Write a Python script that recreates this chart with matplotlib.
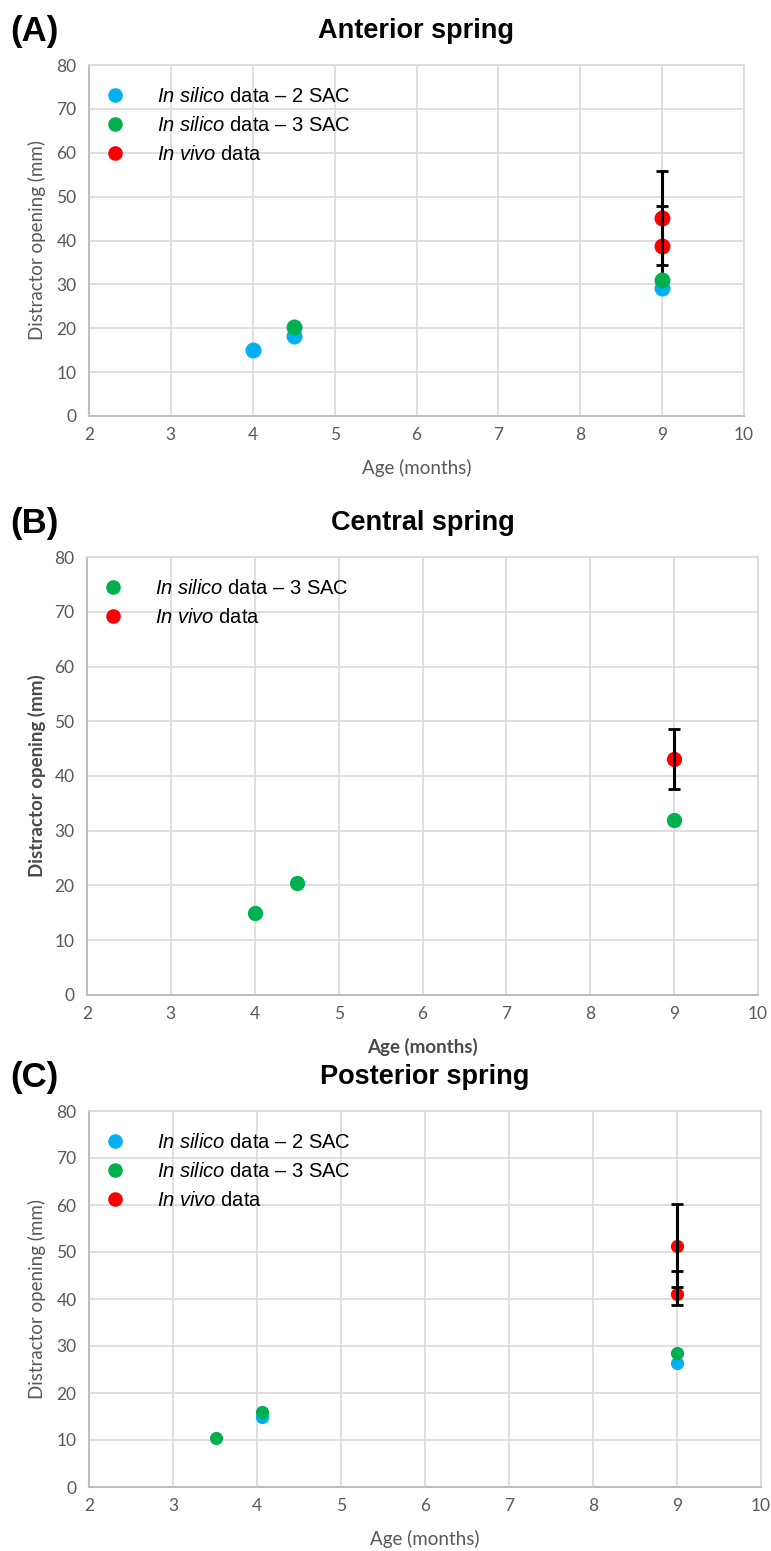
import matplotlib
matplotlib.use("Agg")
import matplotlib.pyplot as plt
from matplotlib import font_manager as fm
from matplotlib.lines import Line2D

# ---------------- data ----------------
# Panel A - Anterior spring
a_2sac_x = [4.0, 4.5, 9.0]
a_2sac_y = [15.0, 18.2, 29.1]
a_3sac_x = [4.5, 9.0]
a_3sac_y = [20.2, 31.1]
a_vivo_x = [9.0, 9.0]
a_vivo_y = [45.2, 38.7]
a_vivo_err = [10.7, 9.1]

# Panel B - Central spring
b_3sac_x = [4.0, 4.5, 9.0]
b_3sac_y = [15.0, 20.5, 32.0]
b_vivo_x = [9.0]
b_vivo_y = [43.1]
b_vivo_err = [5.4]

# Panel C - Posterior spring
c_2sac_x = [4.06, 9.0]
c_2sac_y = [15.0, 26.4]
c_3sac_x = [3.51, 4.06, 9.0]
c_3sac_y = [10.5, 16.0, 28.6]
c_vivo_x = [9.0, 9.0]
c_vivo_y = [51.3, 41.1]
c_vivo_err_lo = [8.8, 2.4]
c_vivo_err_hi = [8.9, 4.9]

titles = ["Anterior spring", "Central spring", "Posterior spring"]
panel_tags = ["(A)", "(B)", "(C)"]
xticks = [2, 3, 4, 5, 6, 7, 8, 9, 10]
yticks = [0, 10, 20, 30, 40, 50, 60, 70, 80]
xlabel = "Age (months)"
ylabel = "Distractor opening (mm)"
lab_2sac = r"$\mathit{In\ silico}$ data – 2 SAC"
lab_3sac = r"$\mathit{In\ silico}$ data – 3 SAC"
lab_vivo = r"$\mathit{In\ vivo}$ data"

BLUE = "#00b0f0"
GREEN = "#00b050"
RED = "#ff0000"
GRID = "#d9d9d9"
TICKC = "#595959"

names = {f.name for f in fm.fontManager.ttflist}
NARROW = "Liberation Sans Narrow" if "Liberation Sans Narrow" in names else "Liberation Sans"
BODY = "Lato" if "Lato" in names else "DejaVu Sans"

plt.rcParams["mathtext.fontset"] = "custom"
plt.rcParams["mathtext.it"] = NARROW + ":italic"
plt.rcParams["mathtext.rm"] = NARROW

W, H = 771, 1551
fig = plt.figure(figsize=(W / 100, H / 100), dpi=100)
fig.patch.set_facecolor("white")


def add_axes_px(x0, x1, y0, y1):
    return fig.add_axes([x0 / W, 1 - y1 / H, (x1 - x0) / W, (y1 - y0) / H])


# pixel boxes (left, right, top, bottom)
boxes = [(89, 744, 65, 416), (87, 758, 557, 995), (89, 761, 1111, 1487)]
msizes = [11.5, 11.0, 9.5]
label_weights = ["normal", "bold", "normal"]
label_colors = [TICKC, "#4a4a4a", TICKC]

axes = [add_axes_px(*b) for b in boxes]


def style(ax, box, title, tag, lw, lc):
    ax.set_xlim(2, 10)
    ax.set_ylim(0, 80)
    ax.set_xticks(xticks)
    ax.set_yticks(yticks)
    ax.grid(True, color=GRID, linewidth=1.2, zorder=0)
    ax.set_axisbelow(True)
    for s in ["top", "right"]:
        ax.spines[s].set_color(GRID)
        ax.spines[s].set_linewidth(1.2)
    for s in ["left", "bottom"]:
        ax.spines[s].set_color("#bfbfbf")
        ax.spines[s].set_linewidth(1.5)
    ax.tick_params(axis="y", length=0, labelsize=12.5, labelcolor=TICKC, pad=9)
    ax.tick_params(axis="x", length=0, labelsize=12.5, labelcolor=TICKC, pad=8)
    for lab in ax.get_xticklabels() + ax.get_yticklabels():
        lab.set_family(BODY)
    x0, x1, y0, y1 = box
    ax.set_xlabel(xlabel, family=BODY, fontsize=13.5, color=lc, va="center",
                  fontweight=lw)
    ax.set_ylabel(ylabel, family=BODY, fontsize=13.5, color=lc, va="center",
                  fontweight=lw)
    ax.xaxis.set_label_coords(0.5, -(52) / (y1 - y0))
    ax.yaxis.set_label_coords((37 - x0) / (x1 - x0), 0.5)
    fig.text((x0 + x1) / 2 / W, 1 - (y0 - 34) / H, title, family=NARROW,
             fontweight="bold", fontsize=19.5, ha="center", va="center")
    fig.text(10 / W, 1 - (y0 - 34) / H, tag, family=NARROW,
             fontweight="bold", fontsize=25, ha="left", va="center")


for ax, box, t, tag, lw, lc in zip(axes, boxes, titles, panel_tags,
                                   label_weights, label_colors):
    style(ax, box, t, tag, lw, lc)

# ---- panel A ----
ax = axes[0]
ms = msizes[0]
ax.plot(a_vivo_x, a_vivo_y, "o", color=RED, ms=ms, mew=0, zorder=3)
ax.errorbar(a_vivo_x, a_vivo_y, yerr=a_vivo_err, fmt="none", ecolor="black",
            elinewidth=2.2, capsize=4, capthick=2, zorder=4)
ax.plot(a_2sac_x, a_2sac_y, "o", color=BLUE, ms=ms, mew=0, zorder=5)
ax.plot(a_3sac_x, a_3sac_y, "o", color=GREEN, ms=ms, mew=0, zorder=6)

# ---- panel B ----
ax = axes[1]
ms = msizes[1]
ax.plot(b_vivo_x, b_vivo_y, "o", color=RED, ms=ms, mew=0, zorder=3)
ax.errorbar(b_vivo_x, b_vivo_y, yerr=b_vivo_err, fmt="none", ecolor="black",
            elinewidth=2.2, capsize=4, capthick=2, zorder=4)
ax.plot(b_3sac_x, b_3sac_y, "o", color=GREEN, ms=ms, mew=0, zorder=6)

# ---- panel C ----
ax = axes[2]
ms = msizes[2]
ax.plot(c_vivo_x, c_vivo_y, "o", color=RED, ms=ms, mew=0, zorder=3)
ax.errorbar(c_vivo_x, c_vivo_y, yerr=[c_vivo_err_lo, c_vivo_err_hi], fmt="none",
            ecolor="black", elinewidth=2.2, capsize=4, capthick=2, zorder=4)
ax.plot(c_2sac_x, c_2sac_y, "o", color=BLUE, ms=ms, mew=0, zorder=5)
ax.plot(c_3sac_x, c_3sac_y, "o", color=GREEN, ms=ms, mew=0, zorder=6)


# ---- legends ----
def mk(c, ms):
    return Line2D([], [], marker="o", linestyle="none", color=c, ms=ms, mew=0)


leg_specs = [
    ([mk(BLUE, 10.5), mk(GREEN, 10.5), mk(RED, 10.5)], [lab_2sac, lab_3sac, lab_vivo]),
    ([mk(GREEN, 10.5), mk(RED, 10.5)], [lab_3sac, lab_vivo]),
    ([mk(BLUE, 10.5), mk(GREEN, 10.5), mk(RED, 10.5)], [lab_2sac, lab_3sac, lab_vivo]),
]
fs_leg = 14.5
fs_px = fs_leg * 100 / 72
for ax, box, (h, l) in zip(axes, boxes, leg_specs):
    x0, x1, y0, y1 = box
    hl = 52 / fs_px
    ax.legend(h, l, loc="upper left",
              bbox_to_anchor=(0, 1 - 22 / (y1 - y0)),
              frameon=False, borderaxespad=0, borderpad=0,
              handlelength=hl, handletextpad=(157 - 89 - 52) / fs_px,
              labelspacing=0.5,
              prop={"family": NARROW, "size": fs_leg})

fig.savefig("out.png", dpi=100, facecolor="white")
